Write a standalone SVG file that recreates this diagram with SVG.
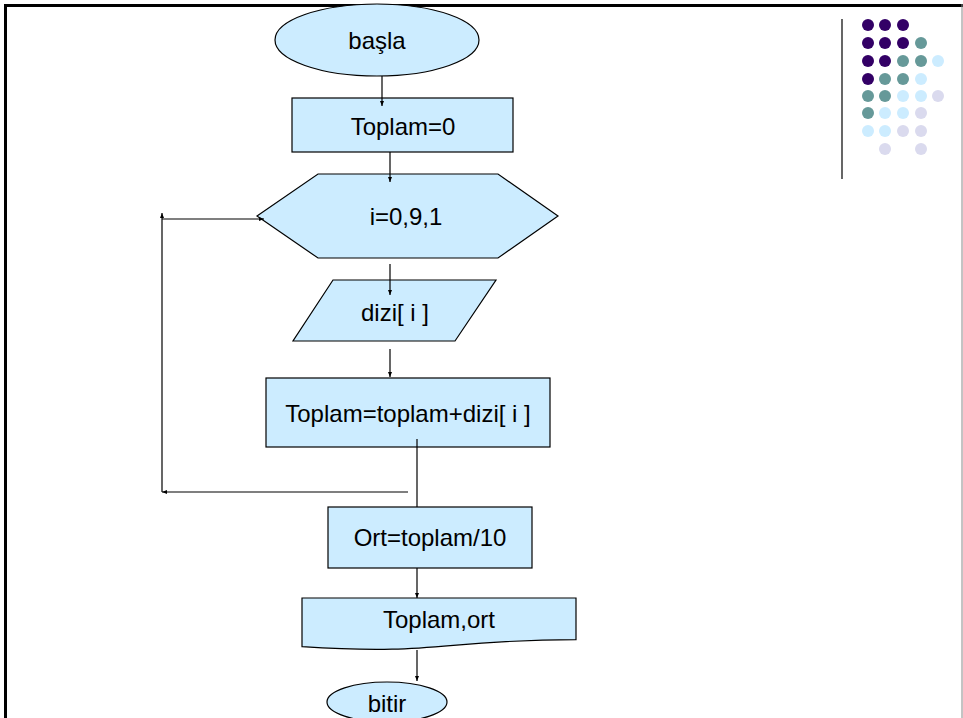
<svg xmlns="http://www.w3.org/2000/svg" width="963" height="718" viewBox="0 0 963 718">
<style>
.shape{fill:#CCECFF;stroke:#000;stroke-width:1.2}
.lbl{font-family:"Liberation Sans",Arial,sans-serif;font-size:24px;fill:#000;text-anchor:middle}
.conn{stroke:#000;stroke-width:1.2;fill:none}
.arr{marker-end:url(#ah)}
.p{fill:#330066}.t{fill:#669999}.b{fill:#CCECFF}.v{fill:#DADAEE}
</style>
<defs>
<marker id="ah" viewBox="0 0 10 8" refX="10" refY="4" markerWidth="5" markerHeight="4" markerUnits="userSpaceOnUse" orient="auto">
<path d="M0,0 L10,4 L0,8 Z" fill="#000"/>
</marker>
</defs>
<rect width="963" height="718" fill="#fff"/>
<g id="frame">
<line x1="4" y1="5.5" x2="963" y2="5.5" stroke="#000" stroke-width="3"/>
<line x1="5.5" y1="4" x2="5.5" y2="718" stroke="#000" stroke-width="3"/>
<line x1="962" y1="4" x2="962" y2="718" stroke="#888" stroke-width="1"/>
</g>
<g id="decoration">
<line x1="842" y1="19" x2="842" y2="179" stroke="#000" stroke-width="1.2"/>
<circle class="p" cx="868" cy="25" r="6"/><circle class="p" cx="885" cy="25" r="6"/><circle class="p" cx="903" cy="25" r="6"/>
<circle class="p" cx="868" cy="43" r="6"/><circle class="p" cx="885" cy="43" r="6"/><circle class="p" cx="903" cy="43" r="6"/><circle class="t" cx="921" cy="43" r="6"/>
<circle class="p" cx="868" cy="61" r="6"/><circle class="p" cx="885" cy="61" r="6"/><circle class="t" cx="903" cy="61" r="6"/><circle class="t" cx="921" cy="61" r="6"/><circle class="b" cx="938" cy="61" r="6"/>
<circle class="p" cx="868" cy="79" r="6"/><circle class="t" cx="885" cy="79" r="6"/><circle class="t" cx="903" cy="79" r="6"/><circle class="b" cx="921" cy="79" r="6"/>
<circle class="t" cx="868" cy="96" r="6"/><circle class="t" cx="885" cy="96" r="6"/><circle class="b" cx="903" cy="96" r="6"/><circle class="b" cx="921" cy="96" r="6"/><circle class="v" cx="938" cy="96" r="6"/>
<circle class="t" cx="868" cy="113" r="6"/><circle class="b" cx="885" cy="113" r="6"/><circle class="b" cx="903" cy="113" r="6"/><circle class="v" cx="921" cy="113" r="6"/>
<circle class="b" cx="868" cy="131" r="6"/><circle class="b" cx="885" cy="131" r="6"/><circle class="v" cx="903" cy="131" r="6"/><circle class="v" cx="921" cy="131" r="6"/>
<circle class="v" cx="885" cy="149" r="6"/><circle class="v" cx="921" cy="149" r="6"/>
</g>
<g id="n-basla">
<ellipse class="shape" cx="377" cy="40" rx="102" ry="36"/>
<text class="lbl" x="377" y="49">başla</text>
</g>
<g id="n-toplam0">
<rect class="shape" x="292" y="98" width="221" height="54"/>
<text class="lbl" x="403" y="135">Toplam=0</text>
</g>
<g id="n-loop">
<polygon class="shape" points="318,174 498,174 558,216 498,258 318,258 257,216"/>
<text class="lbl" x="406" y="225">i=0,9,1</text>
</g>
<g id="n-input">
<polygon class="shape" points="333,280 496,280 455,341 293,341"/>
<text class="lbl" x="395" y="321">dizi[ i ]</text>
</g>
<g id="n-sum">
<rect class="shape" x="266" y="378" width="284" height="69"/>
<text class="lbl" x="408" y="422">Toplam=toplam+dizi[ i ]</text>
</g>
<g id="n-ort">
<rect class="shape" x="328" y="507" width="204" height="61"/>
<text class="lbl" x="430" y="546">Ort=toplam/10</text>
</g>
<g id="n-output">
<path class="shape" d="M302,598 H576 V639.7 C439,639.7 439,655.6 302,646.6 Z"/>
<text class="lbl" x="439" y="628">Toplam,ort</text>
</g>
<g id="n-bitir">
<ellipse class="shape" cx="387" cy="702" rx="60" ry="20"/>
<text class="lbl" x="387" y="712">bitir</text>
</g>
<g id="connectors">
<line class="conn arr" x1="382" y1="76" x2="382" y2="106"/>
<line class="conn arr" x1="390" y1="152" x2="390" y2="182"/>
<line class="conn arr" x1="390" y1="264" x2="390" y2="295"/>
<line class="conn arr" x1="390" y1="349" x2="390" y2="377"/>
<line class="conn" x1="417" y1="439" x2="417" y2="507"/>
<line class="conn arr" x1="408" y1="492" x2="162" y2="492"/>
<line class="conn arr" x1="162" y1="492" x2="162" y2="213"/>
<line class="conn arr" x1="162" y1="219" x2="264" y2="219"/>
<line class="conn arr" x1="417" y1="568" x2="417" y2="598"/>
<line class="conn arr" x1="417" y1="650" x2="417" y2="681"/>
</g>
</svg>
